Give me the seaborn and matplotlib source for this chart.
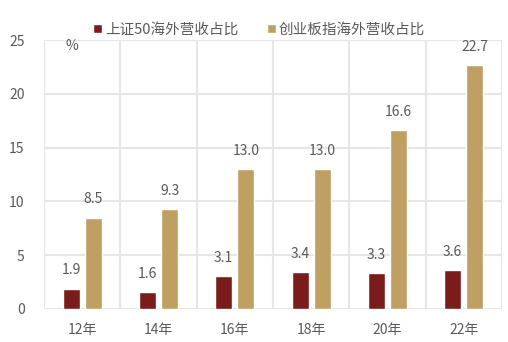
import matplotlib
matplotlib.use("Agg")
import matplotlib.pyplot as plt
import seaborn as sns
import pandas as pd

years = ["12年", "14年", "16年", "18年", "20年", "22年"]
sz50 = [1.9, 1.6, 3.1, 3.4, 3.3, 3.6]
gem = [8.5, 9.3, 13.0, 13.0, 16.6, 22.7]
series_names = ["上证50海外营收占比", "创业板指海外营收占比"]
colors = ["#7B1C1C", "#C09F62"]

df = pd.DataFrame({
    "year": years * 2,
    "value": sz50 + gem,
    "series": [series_names[0]] * len(years) + [series_names[1]] * len(years),
})

sns.set_theme(style="white")
plt.rcParams["font.family"] = ["Noto Sans CJK SC", "DejaVu Sans"]
text_color = "#595959"
grid_color = "#E6E6E6"

fig = plt.figure(figsize=(5.08, 3.42), dpi=100)
ax = fig.add_axes([0.0866, 0.0965, 0.9014, 0.7865])

sns.barplot(data=df, x="year", y="value", hue="series", palette=colors,
            saturation=1, width=0.58, gap=0.23, ax=ax, legend=True)

for cont in ax.containers:
    ax.bar_label(cont, fmt="%.1f", padding=8, fontsize=10, color=text_color)

ax.set_ylim(0, 25)
ax.set_xlim(-0.5, len(years) - 0.5)
ax.set_yticks([0, 5, 10, 15, 20, 25])
ax.set_xticks(range(len(years)))
ax.set_xticks([i - 0.5 for i in range(len(years) + 1)], minor=True)
ax.set_axisbelow(True)
ax.grid(axis="y", which="major", color=grid_color, lw=1.5)
ax.grid(axis="x", which="minor", color=grid_color, lw=1.5)
ax.grid(axis="x", which="major", visible=False)
ax.tick_params(axis="both", which="both", length=0, labelsize=10, colors=text_color)
ax.tick_params(axis="x", pad=10)
ax.tick_params(axis="y", pad=14)
ax.set_xlabel("")
ax.set_ylabel("")
for s in ax.spines.values():
    s.set_visible(False)

ax.text(-0.13, 24.4, "%", fontsize=10, color=text_color, ha="center", va="center")

leg = ax.legend(loc="lower center", bbox_to_anchor=(0.47, 0.99), ncol=2, frameon=False,
                fontsize=10.5, handlelength=0.6, handleheight=0.6, handletextpad=0.2,
                columnspacing=2.0, borderaxespad=0.0)
for t in leg.get_texts():
    t.set_color(text_color)

fig.savefig("out.png", dpi=100)
